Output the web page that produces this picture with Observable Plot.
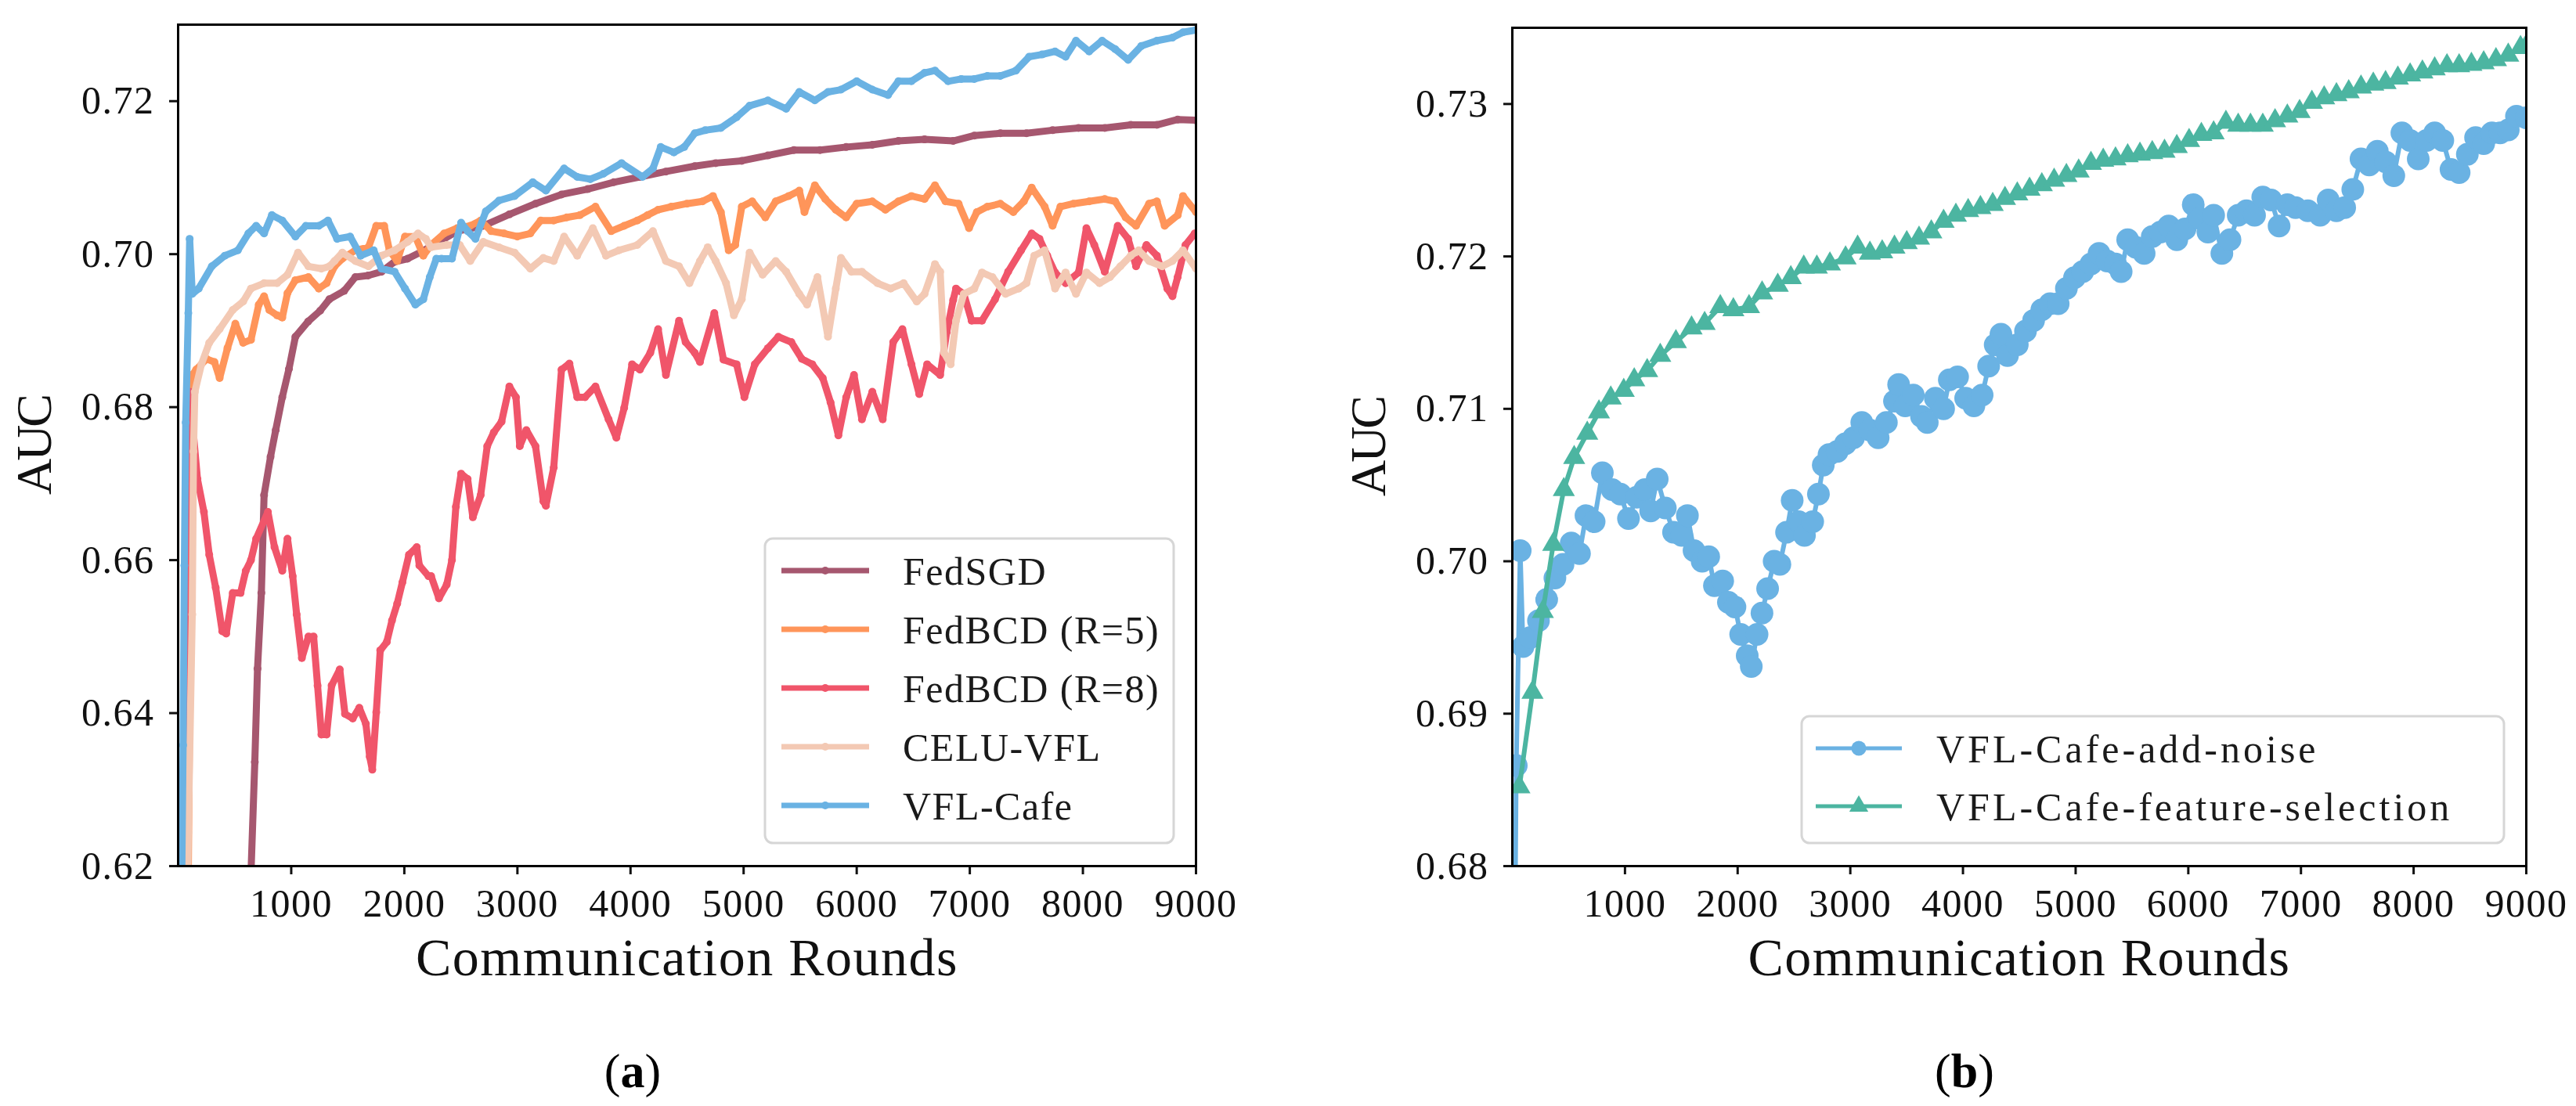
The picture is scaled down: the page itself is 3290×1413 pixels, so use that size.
<!DOCTYPE html>
<html><head><meta charset="utf-8">
<script src="https://cdn.jsdelivr.net/npm/d3@7"></script>
<script src="https://cdn.jsdelivr.net/npm/@observablehq/plot@0.6"></script>
<style>
html,body{margin:0;padding:0;background:#fff;overflow:hidden;}
#root{position:relative;width:3290px;height:1413px;overflow:hidden;background:#fff;}
#pa,#pb{position:absolute;top:0;}
#pa{left:0}
#pb{left:1640px}
.cap{position:absolute;top:1330px;font-family:"Liberation Serif",serif;font-size:62px;line-height:76px;transform:translateX(-50%);color:#000;white-space:nowrap;}
svg text{letter-spacing:1.5px}
</style></head><body><div id="root"><div id="pa"></div><div id="pb"></div>
<div class="cap" style="left:808px">(<b>a</b>)</div>
<div class="cap" style="left:2509px">(<b>b</b>)</div>
</div>
<script>
const xTicks = [1000,2000,3000,4000,5000,6000,7000,8000,9000];
const yTicksA = [0.62,0.64,0.66,0.68,0.70,0.72];
const yTicksB = [0.68,0.69,0.70,0.71,0.72,0.73];
const seriesA = ["FedSGD","FedBCD (R=5)","FedBCD (R=8)","CELU-VFL","VFL-Cafe"];
const colorsA = ["#a6576f","#ff955a","#f0556a","#f3c9b4","#6ab2e3"];
const seriesB = ["VFL-Cafe-add-noise","VFL-Cafe-feature-selection"];
const colorsB = ["#6ab2e3","#4cb5a1"];

const fedSGD = [[600,0.60],[678,0.6336],[702,0.6458],[736,0.6557],[760,0.6685],[817,0.6735],[863,0.677],[921,0.6813],[980,0.685],[1037,0.6892],[1150,0.6912],[1256,0.6926],[1337,0.6941],[1468,0.6952],[1567,0.697],[1680,0.6972],[1798,0.6977],[1914,0.699],[2029,0.6994],[2150,0.7003],[2283,0.7014],[2467,0.703],[2698,0.7037],[2929,0.7052],[3160,0.7066],[3390,0.7078],[3621,0.7085],[3852,0.7094],[4083,0.7101],[4313,0.7108],[4568,0.7115],[4753,0.7119],[4984,0.7122],[5215,0.7129],[5445,0.7136],[5676,0.7136],[5907,0.714],[6138,0.7143],[6369,0.7148],[6600,0.715],[6853,0.7148],[7040,0.7155],[7270,0.7158],[7501,0.7158],[7732,0.7162],[7962,0.7165],[8193,0.7165],[8424,0.7169],[8654,0.7169],[8838,0.7176],[9000,0.7175]];

const fedBCD5 = [[80,0.60],[125,0.6842],[159,0.6849],[252,0.6863],[321,0.6859],[367,0.6838],[436,0.6877],[506,0.6909],[575,0.6884],[644,0.6888],[713,0.6934],[760,0.6945],[806,0.6927],[875,0.692],[921,0.6917],[967,0.6949],[1037,0.6966],[1152,0.697],[1244,0.6955],[1313,0.6962],[1383,0.6984],[1452,0.6994],[1567,0.7005],[1683,0.7009],[1752,0.7037],[1822,0.7037],[1868,0.7005],[1937,0.6991],[2006,0.7023],[2098,0.7023],[2168,0.6998],[2237,0.7012],[2352,0.7027],[2467,0.7034],[2583,0.7037],[2675,0.7044],[2768,0.703],[2883,0.7027],[2999,0.7023],[3114,0.7027],[3206,0.7044],[3321,0.7044],[3436,0.7048],[3552,0.7051],[3690,0.7062],[3829,0.703],[3944,0.7037],[4060,0.7044],[4152,0.7051],[4244,0.7058],[4360,0.7062],[4498,0.7066],[4637,0.7069],[4729,0.7076],[4799,0.7055],[4868,0.7005],[4926,0.7012],[4984,0.7062],[5076,0.7069],[5192,0.7048],[5284,0.7069],[5399,0.7076],[5492,0.7083],[5538,0.7055],[5630,0.709],[5722,0.7072],[5815,0.7058],[5907,0.7048],[6000,0.7066],[6138,0.7069],[6254,0.7058],[6369,0.7069],[6484,0.7076],[6600,0.7072],[6692,0.709],[6785,0.7069],[6901,0.7066],[6993,0.7034],[7062,0.7055],[7155,0.7062],[7270,0.7066],[7385,0.7055],[7478,0.7069],[7547,0.7087],[7662,0.7062],[7732,0.7037],[7801,0.7062],[7916,0.7066],[8055,0.7069],[8193,0.7072],[8285,0.7069],[8378,0.7048],[8470,0.7037],[8585,0.7066],[8654,0.7069],[8723,0.7037],[8839,0.7051],[8885,0.7076],[9000,0.7055]];

const fedBCD8 = [[20,0.60],[44,0.6273],[90,0.677],[102,0.682],[171,0.6706],[228,0.6663],[275,0.6607],[332,0.6564],[390,0.6507],[425,0.6504],[483,0.6557],[552,0.6557],[598,0.6586],[644,0.66],[690,0.6628],[794,0.6663],[852,0.6617],[921,0.6586],[967,0.6628],[1013,0.6579],[1048,0.6529],[1094,0.6472],[1152,0.65],[1198,0.65],[1233,0.6436],[1267,0.6372],[1313,0.6372],[1357,0.6436],[1429,0.6457],[1475,0.6399],[1544,0.6393],[1602,0.6407],[1660,0.6386],[1694,0.6343],[1717,0.6326],[1752,0.6401],[1787,0.6482],[1845,0.6493],[1891,0.6521],[1937,0.6543],[1983,0.6571],[2041,0.6607],[2110,0.6617],[2133,0.6593],[2214,0.6579],[2237,0.6579],[2306,0.655],[2375,0.6568],[2421,0.66],[2456,0.667],[2502,0.6713],[2560,0.6706],[2606,0.6656],[2675,0.6685],[2733,0.6749],[2791,0.6767],[2860,0.6781],[2929,0.6827],[2987,0.6813],[3021,0.6749],[3079,0.677],[3160,0.6749],[3229,0.6677],[3252,0.6671],[3321,0.6721],[3390,0.6849],[3460,0.6857],[3529,0.6813],[3598,0.6813],[3690,0.6827],[3806,0.6784],[3875,0.676],[3944,0.6799],[4014,0.6856],[4083,0.6849],[4175,0.6871],[4244,0.6902],[4313,0.6842],[4429,0.6913],[4487,0.6885],[4568,0.6871],[4614,0.6859],[4741,0.6923],[4822,0.6862],[4938,0.6856],[5007,0.6813],[5099,0.6856],[5215,0.6877],[5307,0.6892],[5422,0.6885],[5515,0.6863],[5607,0.6856],[5700,0.6838],[5769,0.6806],[5838,0.6763],[5907,0.6813],[5976,0.6842],[6046,0.6784],[6138,0.682],[6230,0.6784],[6323,0.6885],[6404,0.6902],[6484,0.6856],[6553,0.6817],[6623,0.6856],[6738,0.6842],[6796,0.6898],[6853,0.694],[6878,0.6955],[6947,0.6948],[7016,0.6913],[7108,0.6913],[7223,0.6941],[7339,0.6977],[7454,0.7005],[7547,0.7027],[7616,0.702],[7685,0.6998],[7754,0.6976],[7847,0.6962],[7962,0.6976],[8031,0.7034],[8101,0.7012],[8193,0.6977],[8308,0.7037],[8400,0.702],[8470,0.6984],[8562,0.7012],[8654,0.6998],[8746,0.6955],[8792,0.6945],[8838,0.697],[8907,0.7012],[8988,0.7027]];

const celuVFL = [[70,0.60],[90,0.6244],[125,0.6529],[136,0.6742],[148,0.682],[206,0.6856],[275,0.6884],[367,0.6902],[483,0.6927],[575,0.6938],[644,0.6955],[760,0.6962],[875,0.6962],[967,0.6973],[1060,0.7002],[1152,0.6984],[1267,0.6981],[1337,0.6984],[1383,0.6991],[1452,0.7002],[1567,0.6991],[1683,0.6984],[1798,0.6998],[1914,0.7005],[2029,0.7016],[2121,0.7027],[2190,0.702],[2237,0.7009],[2375,0.7012],[2490,0.7012],[2583,0.6991],[2698,0.7016],[2837,0.7009],[2975,0.7002],[3114,0.6981],[3229,0.6995],[3321,0.6991],[3413,0.7023],[3529,0.6998],[3667,0.7034],[3783,0.6998],[3898,0.7005],[4060,0.7012],[4198,0.703],[4313,0.6991],[4429,0.6984],[4521,0.6962],[4614,0.6991],[4683,0.7009],[4753,0.6991],[4845,0.6962],[4914,0.692],[4984,0.6941],[5053,0.7002],[5168,0.6973],[5284,0.6991],[5376,0.6977],[5492,0.6948],[5561,0.6934],[5653,0.697],[5746,0.6892],[5815,0.6955],[5861,0.6995],[5953,0.6977],[6046,0.6977],[6184,0.6962],[6300,0.6955],[6415,0.6962],[6531,0.6938],[6600,0.6948],[6692,0.6987],[6738,0.6977],[6773,0.6871],[6831,0.6856],[6878,0.6913],[6947,0.6948],[7040,0.6955],[7108,0.6976],[7200,0.697],[7316,0.6948],[7432,0.6955],[7501,0.6962],[7570,0.6998],[7662,0.7005],[7754,0.6955],[7847,0.6976],[7939,0.6948],[8031,0.6976],[8147,0.6962],[8239,0.697],[8331,0.6984],[8424,0.6998],[8493,0.7005],[8585,0.6991],[8701,0.6984],[8792,0.6991],[8885,0.7005],[9000,0.6981]];

const vflCafe = [[20,0.60],[44,0.6358],[55,0.6593],[67,0.678],[90,0.6923],[102,0.702],[125,0.6948],[182,0.6955],[298,0.6984],[413,0.6998],[528,0.7005],[621,0.7027],[690,0.7037],[760,0.7027],[829,0.7051],[921,0.7044],[1037,0.7023],[1129,0.7037],[1244,0.7037],[1325,0.7044],[1406,0.702],[1521,0.7023],[1614,0.6998],[1729,0.7005],[1798,0.6981],[1914,0.6977],[2006,0.6955],[2098,0.6934],[2168,0.6941],[2225,0.697],[2283,0.6994],[2329,0.6994],[2421,0.6994],[2502,0.7041],[2560,0.703],[2629,0.702],[2721,0.7056],[2837,0.707],[2975,0.7076],[3136,0.7094],[3252,0.7083],[3413,0.7112],[3529,0.7101],[3644,0.7098],[3760,0.7105],[3921,0.7119],[4106,0.7101],[4198,0.7112],[4267,0.714],[4383,0.7133],[4475,0.714],[4568,0.7158],[4661,0.7162],[4799,0.7165],[4938,0.7179],[5053,0.7194],[5215,0.7201],[5376,0.719],[5492,0.7212],[5630,0.7201],[5746,0.7212],[5861,0.7215],[6000,0.7226],[6138,0.7215],[6277,0.7208],[6369,0.7226],[6484,0.7226],[6600,0.7237],[6692,0.724],[6808,0.7226],[6924,0.7229],[7040,0.7229],[7155,0.7233],[7270,0.7233],[7408,0.724],[7524,0.7258],[7639,0.7261],[7754,0.7265],[7847,0.7258],[7939,0.7279],[8055,0.7265],[8170,0.7279],[8285,0.7268],[8400,0.7254],[8516,0.7272],[8654,0.7279],[8792,0.7283],[8885,0.729],[9000,0.7293]];

const addNoise = [[20,0.672],[35,0.6866],[70,0.7007],[95,0.6944],[160,0.695],[232,0.6961],[305,0.6975],[378,0.6989],[450,0.6998],[523,0.7012],[596,0.7005],[654,0.703],[726,0.7026],[799,0.7058],[886,0.7047],[959,0.7044],[1031,0.7028],[1104,0.7042],[1177,0.7047],[1228,0.7033],[1286,0.7054],[1358,0.7035],[1431,0.7019],[1504,0.7017],[1554,0.703],[1613,0.7007],[1685,0.7],[1743,0.7003],[1794,0.6984],[1867,0.6987],[1918,0.6973],[1976,0.697],[2027,0.6952],[2085,0.6938],[2121,0.6931],[2172,0.6952],[2216,0.6966],[2266,0.6982],[2324,0.7],[2375,0.6998],[2434,0.7019],[2484,0.704],[2542,0.7026],[2593,0.7017],[2666,0.7026],[2717,0.7044],[2760,0.7063],[2811,0.707],[2884,0.7072],[2956,0.7077],[3029,0.7081],[3102,0.7091],[3174,0.7086],[3247,0.7081],[3320,0.7091],[3392,0.7105],[3429,0.7116],[3487,0.7102],[3559,0.7109],[3632,0.7095],[3683,0.7091],[3755,0.7107],[3828,0.71],[3879,0.7119],[3952,0.7121],[4024,0.7107],[4097,0.7102],[4170,0.7109],[4228,0.7128],[4286,0.7142],[4337,0.7149],[4395,0.7135],[4482,0.7142],[4555,0.7151],[4627,0.7158],[4700,0.7165],[4773,0.7169],[4845,0.7169],[4918,0.7179],[4990,0.7186],[5063,0.719],[5136,0.7195],[5208,0.7202],[5281,0.7197],[5354,0.7195],[5404,0.719],[5462,0.7211],[5535,0.7206],[5608,0.7202],[5680,0.7213],[5753,0.7216],[5826,0.722],[5898,0.7211],[5971,0.7218],[6044,0.7234],[6102,0.7225],[6174,0.7216],[6225,0.7227],[6298,0.7202],[6370,0.7211],[6443,0.7227],[6516,0.723],[6588,0.7227],[6661,0.7239],[6734,0.7237],[6806,0.722],[6879,0.7234],[6952,0.7232],[7061,0.723],[7170,0.7227],[7242,0.7237],[7315,0.723],[7388,0.7232],[7460,0.7244],[7533,0.7264],[7606,0.726],[7678,0.7269],[7751,0.7262],[7824,0.7253],[7896,0.7281],[7969,0.7276],[8041,0.7264],[8114,0.7276],[8187,0.7281],[8259,0.7276],[8332,0.7257],[8404,0.7255],[8477,0.7267],[8550,0.7278],[8622,0.7274],[8695,0.7281],[8768,0.7281],[8840,0.7283],[8913,0.7292],[9000,0.7291]];

const featSel = [[63,0.6852],[179,0.6914],[271,0.6967],[363,0.7011],[457,0.7047],[549,0.7068],[665,0.7084],[769,0.7098],[874,0.7107],[989,0.7112],[1082,0.7119],[1197,0.7125],[1313,0.7135],[1452,0.7144],[1591,0.7153],[1707,0.7156],[1846,0.7167],[1962,0.7165],[2101,0.7167],[2217,0.7176],[2356,0.7181],[2472,0.7186],[2587,0.7193],[2703,0.7193],[2819,0.7195],[2958,0.7199],[3065,0.7206],[3174,0.7202],[3283,0.7203],[3392,0.7206],[3501,0.7209],[3610,0.7212],[3719,0.7216],[3828,0.7223],[3937,0.7227],[4046,0.723],[4155,0.7232],[4264,0.7234],[4373,0.7238],[4482,0.7241],[4591,0.7244],[4700,0.7247],[4809,0.725],[4918,0.7253],[5027,0.7256],[5136,0.7261],[5245,0.7263],[5354,0.7264],[5462,0.7266],[5571,0.7267],[5680,0.7268],[5789,0.7269],[5898,0.7272],[6007,0.7276],[6116,0.728],[6225,0.7281],[6334,0.7288],[6443,0.7286],[6552,0.7286],[6661,0.7286],[6770,0.7289],[6879,0.7292],[6988,0.7295],[7097,0.7301],[7206,0.7304],[7315,0.7306],[7424,0.7308],[7533,0.7311],[7642,0.7313],[7751,0.7314],[7860,0.7317],[7969,0.7319],[8078,0.7321],[8187,0.7323],[8296,0.7325],[8404,0.7325],[8513,0.7326],[8622,0.7327],[8731,0.7329],[8840,0.7332],[8949,0.7337],[9000,0.7338]];

const FONT = '"Liberation Serif", "DejaVu Serif", serif';
const toRows = (arr, name) => arr.map(([r, v]) => ({series: name, round: r, auc: v}));

function titles() {
  return [
    Plot.text(["Communication Rounds"], {frameAnchor: "bottom", dy: 118, textAnchor: "middle", lineAnchor: "middle", fontSize: 68, fill: "#111"}),
    Plot.text(["AUC"], {frameAnchor: "left", dx: -183, rotate: -90, textAnchor: "middle", lineAnchor: "middle", fontSize: 64, fill: "#111"})
  ];
}

// Panel (a)
const dataA = [fedSGD, fedBCD5, fedBCD8, celuVFL, vflCafe];
const marksA = [];
dataA.forEach((arr, i) => {
  const rows = toRows(arr, seriesA[i]);
  marksA.push(Plot.line(rows, {x: "round", y: "auc", stroke: colorsA[i], strokeWidth: 9, strokeLinejoin: "round", clip: true}));
  marksA.push(Plot.dot(rows, {x: "round", y: "auc", fill: colorsA[i], r: 5, clip: true}));
});
const plotA = Plot.plot({
  width: 1650, height: 1300,
  marginLeft: 227, marginRight: 123, marginTop: 31, marginBottom: 194,
  style: {fontFamily: FONT, fontSize: "50px", background: "white", color: "#111"},
  x: {domain: [0, 9000], ticks: xTicks, tickFormat: "d", tickSize: 11, tickPadding: 18, label: null},
  y: {domain: [0.62, 0.73], ticks: yTicksA, tickFormat: ".2f", tickSize: 11, tickPadding: 19, label: null},
  marks: [...marksA, Plot.frame({stroke: "black", strokeWidth: 3}), ...titles()]
});
document.getElementById("pa").appendChild(plotA);

// Panel (b)
const dataB = [addNoise, featSel];
const marksB = [];
dataB.forEach((arr, i) => {
  const rows = toRows(arr, seriesB[i]);
  marksB.push(Plot.line(rows, {x: "round", y: "auc", stroke: colorsB[i], strokeWidth: 6, strokeLinejoin: "round", clip: true}));
  marksB.push(Plot.dot(rows, {x: "round", y: "auc", fill: colorsB[i], r: i === 0 ? 14.5 : 10.5, symbol: i === 0 ? "circle" : "triangle", clip: true}));
});
const plotB = Plot.plot({
  width: 1650, height: 1300,
  marginLeft: 291, marginRight: 64, marginTop: 35, marginBottom: 194,
  style: {fontFamily: FONT, fontSize: "50px", background: "white", color: "#111"},
  x: {domain: [0, 9000], ticks: xTicks, tickFormat: "d", tickSize: 11, tickPadding: 18, label: null},
  y: {domain: [0.68, 0.735], ticks: yTicksB, tickFormat: ".2f", tickSize: 11, tickPadding: 19, label: null},
  marks: [...marksB, Plot.frame({stroke: "black", strokeWidth: 3}), ...titles()]
});
document.getElementById("pb").appendChild(plotB);

// styling of ticks and titles
for (const svg of [plotA, plotB]) {
  const s = d3.select(svg);
  s.selectAll('[aria-label="x-axis tick"], [aria-label="y-axis tick"], .tick line').attr("stroke-width", 3).style("stroke-width", "3px");
  s.selectAll("text").each(function() {
    const t = this.textContent;
    if (t === "Communication Rounds") this.style.letterSpacing = "1.5px";
    if (t === "AUC") this.style.letterSpacing = "-3px";
  });
}

// legends
function addLegend(svg, box, items) {
  const g = d3.select(svg).append("g").attr("text-anchor", "start");
  g.append("rect").attr("x", box.x).attr("y", box.y).attr("width", box.w).attr("height", box.h)
    .attr("rx", 10).attr("fill", "white").attr("fill-opacity", 0.8).attr("stroke", "#d6d6d6").attr("stroke-width", 3);
  items.forEach((it, i) => {
    const y = box.row0 + i * box.step;
    const mx = (box.lx1 + box.lx2) / 2;
    g.append("line").attr("x1", box.lx1).attr("x2", box.lx2).attr("y1", y).attr("y2", y)
      .attr("stroke", it.color).attr("stroke-width", it.lw);
    if (it.symbol === "triangle") {
      g.append("path").attr("d", d3.symbol(d3.symbolTriangle, Math.PI * it.r * it.r)()).attr("transform", `translate(${mx},${y})`).attr("fill", it.color);
    } else {
      g.append("circle").attr("cx", mx).attr("cy", y).attr("r", it.r).attr("fill", it.color);
    }
    g.append("text").attr("x", box.tx).attr("y", y).attr("dy", "0.35em").attr("fill", "#1a1a1a")
      .attr("text-anchor", "start")
      .style("font-size", "50px").style("letter-spacing", box.ls).style("font-family", FONT).text(it.label);
  });
}
addLegend(plotA, {x: 977, y: 688, w: 522, h: 389, row0: 729, step: 75, lx1: 998, lx2: 1110, tx: 1153, ls: "1.5px"},
  seriesA.map((name, i) => ({label: name, color: colorsA[i], lw: 7, r: 5})));
addLegend(plotB, {x: 661, y: 915, w: 897, h: 162, row0: 956, step: 74, lx1: 679, lx2: 789, tx: 833, ls: "4px"},
  seriesB.map((name, i) => ({label: name, color: colorsB[i], lw: 5, r: i === 0 ? 9.5 : 9, symbol: i === 0 ? "circle" : "triangle"})));
</script></body></html>
